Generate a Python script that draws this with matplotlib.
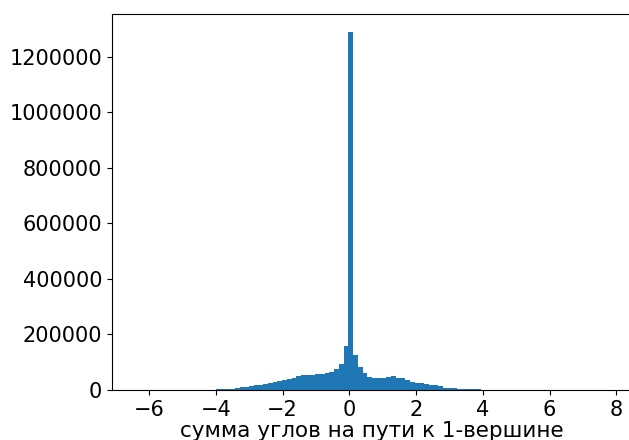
import numpy as np
import matplotlib
matplotlib.use("Agg")
import matplotlib.pyplot as plt
from matplotlib.ticker import ScalarFormatter

# histogram of summed angles, 100 bins
x_min, x_max, n_bins = -6.40, 7.76, 100

counts = [
    100, 100, 100, 150, 150, 200, 200, 250, 300, 350,             # 0-9
    400, 500, 600, 700, 900, 1200, 1500, 2000, 2500, 3500,        # 10-19
    5000, 7000, 10000, 12000, 15000, 17000, 19000, 21000, 24000, 28000,   # 20-29
    31000, 35000, 38000, 44000, 52000, 53000, 53000, 53000, 56000, 59000,  # 30-39
    61000, 64000, 77000, 95000, 157000, 1290000, 125000, 82000, 62000, 48000,  # 40-49
    44000, 44000, 44000, 48000, 49000, 45000, 43000, 35000, 30000, 26000,  # 50-59
    24000, 22000, 19000, 18000, 16000, 9000, 8500, 8000, 5000, 4500,  # 60-69
    4000, 2500, 2000, 1500, 1000, 800, 700, 600, 500, 450,        # 70-79
    400, 350, 300, 300, 250, 250, 200, 200, 200, 150,             # 80-89
    150, 150, 150, 100, 100, 100, 100, 100, 100, 100,             # 90-99
]

xlabel = "сумма углов на пути к 1-вершине"
xticks = [-6, -4, -2, 0, 2, 4, 6, 8]
yticks = [0, 200000, 400000, 600000, 800000, 1000000, 1200000]

edges = np.linspace(x_min, x_max, n_bins + 1)
centers = (edges[:-1] + edges[1:]) / 2

fig = plt.figure(figsize=(6.29, 4.40), dpi=100)
ax = fig.add_axes([112 / 629, 50 / 440, 520 / 629, 376 / 440])

ax.hist(centers, bins=edges, weights=counts, color="#1f77b4")

ax.set_xticks(xticks)
ax.set_yticks(yticks)
fmt = ScalarFormatter(useOffset=False)
fmt.set_scientific(False)
ax.yaxis.set_major_formatter(fmt)
ax.tick_params(labelsize=15)
ax.set_xlabel(xlabel, fontsize=15.5, labelpad=1)

fig.savefig("out.png", dpi=100)
